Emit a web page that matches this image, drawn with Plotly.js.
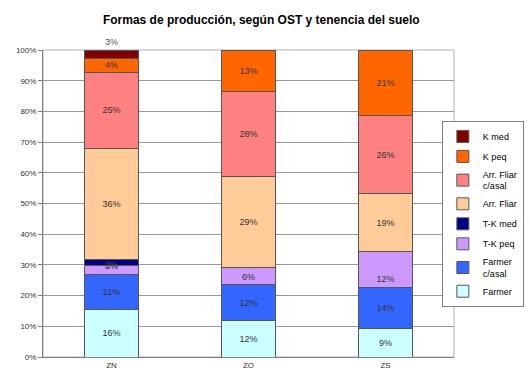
<!DOCTYPE html>
<html><head><meta charset="utf-8">
<script src="https://cdn.plot.ly/plotly-3.0.1.min.js"></script>
<style>html,body{margin:0;padding:0;background:#fff}#c{width:530px;height:383px}</style>
</head><body><div id="c"></div>
<script>
const categories = ['ZN', 'ZO', 'ZS'];
const seriesNames = ['Farmer', 'Farmer<br>c/asal', 'T-K peq', 'T-K med', 'Arr. Fliar', 'Arr. Fliar<br>c/asal', 'K peq', 'K med'];
const farmer       = [15.6, 11.8, 9.2];
const farmerCasal  = [11.4, 11.7, 13.6];
const tkPeq        = [2.7, 5.8, 11.7];
const tkMed        = [1.9, 0, 0];
const arrFliar     = [36.4, 29.4, 18.6];
const arrFliarCasal= [24.8, 27.9, 25.6];
const kPeq         = [4.4, 13.4, 21.3];
const kMed         = [2.8, 0, 0];
const yTickVals = [0,10,20,30,40,50,60,70,80,90,100];
const yTickText = ['0%','10%','20%','30%','40%','50%','60%','70%','80%','90%','100%'];
const colors = ['#CCFFFF', '#3366FF', '#CC99FF', '#000080', '#FFCC99', '#FF8080', '#FF6600', '#800000'];
const anchors = ['middle', 'middle', 'start', 'end', 'middle', 'middle', 'middle', 'middle'];

const allSeries = [farmer, farmerCasal, tkPeq, tkMed, arrFliar, arrFliarCasal, kPeq, kMed];
const traces = allSeries.map((vals, i) => ({
  type: 'bar',
  name: seriesNames[i],
  x: categories,
  y: vals,
  text: vals.map(v => v > 0 ? Math.round(v) + '%' : ''),
  textposition: i === 7 ? 'outside' : 'inside',
  insidetextanchor: anchors[i],
  textangle: 0,
  cliponaxis: false,
  textfont: {family: 'Arial, Liberation Sans, sans-serif', size: 9, color: (i === 3 || i === 7) ? '#555' : '#333'},
  hoverinfo: 'none',
  legendgroup: 'g' + i,
  legendrank: 1000 - i,
  marker: {color: colors[i], line: {color: '#555', width: 1}},
  width: 0.4
}));

const layout = {
  width: 530, height: 383,
  margin: {l: 43, r: 76, t: 50, b: 26, autoexpand: false},
  paper_bgcolor: '#fff', plot_bgcolor: '#fff',
  barmode: 'stack',
  title: {text: 'Formas de producción, según OST y tenencia del suelo',
    font: {family: 'Arial, Liberation Sans, sans-serif', size: 12, color: '#000', weight: 'bold'},
    x: 0.493, xanchor: 'center', y: 0.948, yanchor: 'middle'},
  uniformtext: {minsize: 8, mode: 'show'},
  showlegend: true,
  legend: {traceorder: 'grouped', tracegroupgap: 1,
    x: 1.17, xanchor: 'right', y: 0.769, yanchor: 'top',
    bgcolor: '#fff', bordercolor: '#808080', borderwidth: 1,
    font: {family: 'Arial, Liberation Sans, sans-serif', size: 9, color: '#000'},
    itemwidth: 30},
  xaxis: {type: 'category', showgrid: false, zeroline: false,
    showline: true, linecolor: '#808080', linewidth: 1,
    tickfont: {family: 'Arial, Liberation Sans, sans-serif', size: 8, color: '#333'},
    ticks: '', fixedrange: true},
  yaxis: {range: [0, 100], tickvals: yTickVals, ticktext: yTickText,
    showgrid: true, gridcolor: '#999', gridwidth: 1, zeroline: false,
    showline: true, linecolor: '#808080', linewidth: 1,
    ticks: 'outside', ticklen: 4, tickcolor: '#808080',
    tickfont: {family: 'Arial, Liberation Sans, sans-serif', size: 8, color: '#333'},
    fixedrange: true},
  shapes: [{type: 'rect', xref: 'paper', yref: 'paper', x0: 0, x1: 1, y0: 0, y1: 1,
    line: {color: '#b0b0b0', width: 1}, layer: 'below'}]
};
Plotly.newPlot('c', traces, layout, {displayModeBar: false, staticPlot: true});
</script></body></html>
